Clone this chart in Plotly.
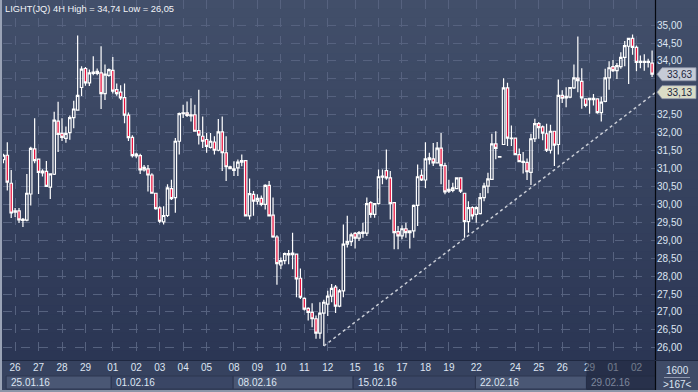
import plotly.graph_objects as go

# ---------------- data ----------------
open_ = [31.25, 31.37, 30.59, 29.78, 29.82, 29.55, 29.56, 30.29, 31.55, 31.26,
         30.88, 30.92, 30.48, 30.84, 32.32, 31.98, 31.84, 32.00, 32.42, 32.63,
         33.26, 33.79, 33.39, 33.65, 33.71, 33.67, 33.09, 33.60, 33.74, 33.20,
         33.13, 32.98, 32.49, 31.87, 31.35, 31.36, 30.96, 30.99, 30.82, 30.31,
         29.90, 29.51, 29.69, 30.44, 30.19, 31.76, 32.53, 32.55, 32.47, 32.50,
         32.06, 31.90, 31.81, 31.59, 31.74, 31.51, 32.02, 31.44, 31.05, 30.95,
         31.02, 31.18, 31.22, 29.68, 30.28, 30.09, 30.17, 30.00, 30.53, 29.70,
         29.09, 28.31, 28.43, 28.59, 28.60, 28.61, 27.94, 27.38, 27.10, 26.99,
         26.81, 26.41, 26.97, 27.22, 27.44, 27.69, 27.16, 27.59, 28.89, 28.96,
         29.19, 29.06, 29.19, 29.20, 30.05, 29.72, 30.02, 30.76, 30.94, 30.74,
         30.05, 29.24, 29.12, 29.32, 29.21, 29.26, 29.97, 30.81, 30.68, 31.25,
         31.27, 31.16, 31.57, 31.08, 30.37, 30.39, 30.44, 30.74, 30.31, 29.52,
         29.91, 29.72, 29.74, 30.19, 30.51, 30.70, 31.69, 31.32, 31.67, 33.25,
         31.83, 31.85, 31.39, 31.17, 31.17, 30.89, 31.83, 32.25, 32.16, 31.97,
         31.51, 32.04, 31.67, 33.04, 32.97, 32.99, 33.25, 33.52, 33.43, 32.94,
         32.92, 32.92, 32.94, 32.56, 32.87, 33.53, 33.84, 33.73, 33.84, 34.10,
         34.41, 34.63, 34.38, 33.96, 33.96, 33.96, 33.94]
high = [31.41, 31.73, 30.96, 29.90, 29.90, 29.62, 30.85, 31.61, 32.40, 31.26,
        30.98, 31.21, 30.87, 32.58, 32.86, 32.40, 32.17, 32.48, 32.89, 34.71,
        33.85, 33.83, 33.76, 34.13, 33.79, 34.41, 33.90, 33.79, 34.11, 33.37,
        33.32, 33.37, 32.56, 31.93, 31.44, 31.41, 31.10, 31.10, 30.87, 30.31,
        29.95, 29.95, 30.56, 30.69, 31.85, 32.56, 32.78, 32.87, 32.96, 32.78,
        33.20, 32.45, 31.99, 31.99, 31.90, 32.38, 32.45, 31.90, 31.08, 31.20,
        31.25, 31.39, 31.22, 30.72, 30.37, 30.28, 30.25, 30.56, 30.65, 30.19,
        29.14, 28.52, 28.66, 28.73, 29.21, 28.61, 28.21, 27.41, 27.13, 27.24,
        26.90, 27.27, 27.34, 27.59, 27.78, 27.75, 27.64, 29.44, 29.68, 29.21,
        29.23, 29.26, 29.49, 30.19, 30.09, 30.02, 30.97, 30.97, 31.53, 30.93,
        30.05, 29.40, 29.42, 29.49, 29.26, 30.00, 31.11, 30.97, 31.73, 31.44,
        31.71, 31.74, 31.99, 31.16, 30.69, 30.60, 30.74, 30.74, 30.31, 30.09,
        29.95, 29.95, 30.32, 30.60, 30.88, 31.97, 32.04, 31.33, 33.52, 33.39,
        32.20, 31.85, 31.56, 31.46, 31.28, 31.97, 32.39, 32.30, 32.20, 32.25,
        32.22, 32.04, 33.48, 33.18, 33.27, 33.27, 33.90, 34.68, 33.80, 32.96,
        32.97, 33.08, 32.96, 33.00, 33.78, 33.99, 34.03, 33.94, 34.24, 34.56,
        34.65, 34.74, 34.43, 34.15, 34.19, 34.06, 34.29]
low = [31.15, 30.39, 29.62, 29.65, 29.48, 29.37, 29.53, 29.97, 31.15, 30.29,
       30.78, 30.50, 30.15, 30.82, 31.46, 31.77, 31.72, 31.80, 32.12, 32.61,
       33.02, 33.31, 33.30, 33.60, 33.60, 32.66, 32.91, 33.56, 33.09, 33.03,
       32.91, 32.26, 31.77, 31.31, 31.29, 30.85, 30.92, 30.36, 30.30, 29.85,
       29.48, 29.44, 29.65, 30.12, 29.77, 31.39, 32.41, 32.44, 32.31, 32.04,
       31.67, 31.57, 31.44, 31.56, 31.39, 31.48, 30.93, 30.65, 30.98, 30.79,
       30.79, 31.06, 29.68, 29.58, 29.68, 30.00, 29.95, 29.86, 29.68, 29.07,
       27.76, 28.19, 28.33, 28.33, 28.19, 27.41, 27.36, 27.04, 26.76, 26.57,
       26.25, 26.25, 26.05, 26.89, 27.27, 26.97, 27.13, 27.41, 28.80, 28.84,
       28.77, 28.98, 29.07, 29.12, 29.63, 29.63, 30.00, 30.56, 30.69, 29.58,
       28.75, 28.75, 29.03, 29.07, 28.77, 29.07, 29.40, 30.65, 30.46, 31.11,
       31.07, 31.16, 30.56, 30.28, 30.32, 30.34, 30.42, 30.32, 29.07, 29.21,
       29.58, 29.49, 29.72, 30.09, 30.31, 30.70, 31.26, 31.32, 31.67, 31.63,
       31.63, 31.37, 31.19, 30.86, 30.68, 30.54, 31.74, 31.83, 31.79, 31.46,
       31.42, 31.07, 31.39, 32.83, 32.71, 32.96, 33.22, 33.13, 32.67, 32.71,
       32.53, 32.76, 32.53, 32.31, 32.85, 33.20, 33.69, 33.50, 33.78, 33.85,
       33.36, 34.17, 33.71, 33.80, 33.73, 33.82, 33.55]
close = [31.37, 30.62, 29.76, 29.82, 29.57, 29.58, 30.31, 31.56, 31.22, 30.89,
         30.93, 30.50, 30.85, 32.35, 31.95, 31.87, 31.98, 32.42, 32.66, 33.04,
         33.77, 33.39, 33.67, 33.69, 33.65, 33.09, 33.63, 33.76, 33.16, 33.09,
         32.97, 32.49, 31.86, 31.36, 31.40, 30.96, 31.03, 30.82, 30.31, 29.88,
         29.53, 29.69, 30.46, 30.16, 31.76, 32.53, 32.55, 32.48, 32.50, 32.04,
         31.93, 31.76, 31.62, 31.76, 31.51, 32.02, 31.44, 31.05, 31.00, 30.99,
         31.18, 31.22, 29.68, 30.30, 30.09, 30.17, 30.00, 30.53, 29.68, 29.09,
         28.35, 28.43, 28.63, 28.63, 28.64, 27.92, 27.41, 27.08, 26.99, 26.81,
         26.41, 26.97, 27.27, 27.44, 27.66, 27.16, 27.59, 28.89, 28.96, 29.15,
         29.06, 29.21, 29.23, 30.02, 29.72, 30.02, 30.77, 30.79, 30.74, 30.02,
         29.21, 29.12, 29.32, 29.21, 29.26, 29.97, 30.77, 30.68, 31.27, 31.30,
         31.16, 31.57, 31.08, 30.35, 30.42, 30.46, 30.74, 30.37, 29.52, 29.91,
         29.68, 29.91, 30.19, 30.51, 30.71, 31.69, 31.56, 31.33, 33.25, 31.85,
         31.85, 31.39, 31.19, 31.20, 30.91, 31.83, 32.25, 32.14, 31.99, 31.51,
         32.04, 31.65, 33.04, 32.96, 33.01, 33.26, 33.53, 33.45, 32.97, 32.76,
         32.96, 32.96, 32.56, 32.85, 33.53, 33.81, 33.73, 33.87, 34.10, 34.43,
         34.63, 34.38, 33.96, 33.99, 33.99, 33.99, 33.63]
bar_index = list(range(len(open_)))

day_ticks = [3, 9, 15, 21, 28, 34, 40, 46, 52, 59, 65, 71, 77, 83, 90, 96, 102,
             108, 114, 121, 131, 137, 143, 150, 156, 162]
day_labels = ["26", "27", "28", "29", "01", "02", "03", "04", "05", "08", "09",
              "10", "11", "12", "15", "16", "17", "18", "19", "22", "24", "25",
              "26", "29", "01", "02"]
week_starts = [0.7, 27.6, 58.8, 89.5, 120.8, 149.2]
week_labels = ["25.01.16", "01.02.16", "08.02.16", "15.02.16", "22.02.16", "29.02.16"]

price_ticks = [26.0, 26.5, 27.0, 27.5, 28.0, 28.5, 29.0, 29.5, 30.0, 30.5, 31.0,
               31.5, 32.0, 32.5, 33.0, 33.5, 34.0, 34.5, 35.0]
# labels hidden under the price tags in the reference
hidden_price_labels = [33.0, 33.5]

trend_x = [82, 167]
trend_y = [26.05, 33.13]
last_price = 33.63
trend_price = 33.13
title_text = "LIGHT(JQ) 4H High = 34,74 Low = 26,05"
bars_label = "1600"
count_label = ">167<"

# ---------------- geometry ----------------
W, H = 698, 392
ML, MR, MT, MB = 3, 42, 0, 32
PW = W - ML - MR
PH = H - MT - MB
X_LO, X_HI = -0.1, 167.0
Y_LO, Y_HI = 25.66, 35.70

FONT = "Liberation Sans, Arial, sans-serif"
TXT = "#dde5f2"


def px_x(p):
    return (p - ML) / PW


def px_y(p):
    return 1 - (p - MT) / PH


def fmt(v):
    return ("%.2f" % v).replace(".", ",")


price_text = ["" if v in hidden_price_labels else fmt(v) for v in price_ticks]

fig = go.Figure()

fig.add_trace(go.Candlestick(
    x=bar_index, open=open_, high=high, low=low, close=close,
    increasing=dict(line=dict(color="#ffffff", width=1.2), fillcolor="rgba(0,0,0,0)"),
    decreasing=dict(line=dict(color="#ffffff", width=1.2), fillcolor="#e8103c"),
    whiskerwidth=0, hoverinfo="skip", showlegend=False,
))

fig.add_trace(go.Scatter(
    x=trend_x, y=trend_y, mode="lines",
    line=dict(color="#c9cdd6", width=1.5, dash="dot"),
    hoverinfo="skip", showlegend=False,
))

shapes = []
# vertical gradient background
top = (66, 79, 106)
bot = (43, 54, 84)
n = 40
for i in range(n):
    t = i / (n - 1)
    c = tuple(round(top[k] + (bot[k] - top[k]) * t) for k in range(3))
    y1 = 1 - i / n
    y0 = 1 - (i + 1) / n
    shapes.append(dict(type="rect", xref="paper", yref="paper",
                       x0=px_x(0), x1=px_x(W), y0=y0, y1=y1 + 0.002,
                       fillcolor="rgb(%d,%d,%d)" % c, line=dict(width=0), layer="below"))
# axis band
shapes.append(dict(type="rect", xref="paper", yref="paper",
                   x0=px_x(0), x1=px_x(W), y0=px_y(H), y1=px_y(361),
                   fillcolor="#36425f", line=dict(width=0), layer="below"))
# week boxes
for i, ws in enumerate(week_starts):
    we = week_starts[i + 1] if i + 1 < len(week_starts) else X_HI
    shapes.append(dict(type="rect", xref="x", yref="paper",
                       x0=ws, x1=we, y0=px_y(389), y1=px_y(376),
                       fillcolor="#4a5774" if i % 2 == 0 else "#3a4665",
                       line=dict(width=1, color="#2c3650"), layer="below"))
# dim overlay on the current week
shapes.append(dict(type="rect", xref="x", yref="paper",
                   x0=week_starts[-1], x1=X_HI, y0=px_y(390), y1=px_y(361),
                   fillcolor="rgba(25,33,55,0.55)", line=dict(width=0), layer="above"))
# bottom-right cell
shapes.append(dict(type="rect", xref="paper", yref="paper",
                   x0=px_x(656), x1=px_x(W), y0=px_y(390), y1=px_y(361),
                   fillcolor="#3f4b67", line=dict(width=0), layer="below"))
shapes.append(dict(type="line", xref="paper", yref="paper",
                   x0=px_x(664), x1=px_x(690), y0=px_y(377.5), y1=px_y(377.5),
                   line=dict(color="#8d97ad", width=1), layer="above"))
# frame lines
shapes.append(dict(type="line", xref="paper", yref="paper",
                   x0=px_x(655.5), x1=px_x(655.5), y0=px_y(390), y1=px_y(0),
                   line=dict(color="#05080f", width=1.2), layer="above"))
shapes.append(dict(type="line", xref="paper", yref="paper",
                   x0=px_x(0), x1=px_x(W), y0=px_y(360.5), y1=px_y(360.5),
                   line=dict(color="#1f2840", width=1), layer="above"))
shapes.append(dict(type="rect", xref="paper", yref="paper",
                   x0=px_x(0), x1=px_x(2), y0=px_y(H), y1=px_y(0),
                   fillcolor="#9aa3b6", line=dict(width=0), layer="above"))
shapes.append(dict(type="rect", xref="paper", yref="paper",
                   x0=px_x(0), x1=px_x(W), y0=px_y(H), y1=px_y(390),
                   fillcolor="#8c95a8", line=dict(width=0), layer="above"))
# price tags
for price, col in ((last_price, "#c6cbd6"), (trend_price, "#dadcc6")):
    shapes.append(dict(type="path", xref="paper", yref="y",
                       xsizemode="pixel", ysizemode="pixel",
                       xanchor=1, yanchor=price,
                       path="M 1,0 L 6,6.5 L 40,6.5 L 40,-6.5 L 6,-6.5 Z",
                       fillcolor=col, line=dict(color="#8e96a8", width=0.8),
                       layer="above"))

annotations = [
    dict(text=title_text, xref="paper", yref="paper", x=px_x(3), y=1,
         xanchor="left", yanchor="top", yshift=-2, showarrow=False,
         font=dict(family=FONT, size=9.3, color="#f2f4f8")),
    dict(text=bars_label, xref="paper", yref="paper", x=px_x(677), y=px_y(370.5),
         xanchor="center", yanchor="middle", showarrow=False,
         font=dict(family=FONT, size=10, color=TXT)),
    dict(text=count_label, xref="paper", yref="paper", x=px_x(677), y=px_y(384.5),
         xanchor="center", yanchor="middle", showarrow=False,
         font=dict(family=FONT, size=10, color=TXT)),
]
for i, (ws, lab) in enumerate(zip(week_starts, week_labels)):
    annotations.append(dict(text=lab, xref="x", yref="paper", x=ws, y=px_y(382.5),
                            xanchor="left", yanchor="middle", xshift=3, showarrow=False,
                            font=dict(family=FONT, size=10,
                                      color="#7d879c" if i == len(week_starts) - 1 else TXT)))
for price in (last_price, trend_price):
    annotations.append(dict(text=fmt(price), xref="paper", yref="y",
                            x=1, y=price, xanchor="center", yanchor="middle",
                            xshift=23, showarrow=False,
                            font=dict(family=FONT, size=10, color="#1c2640")))

fig.update_layout(
    width=W, height=H,
    margin=dict(l=ML, r=MR, t=MT, b=MB, pad=0),
    paper_bgcolor="#2b3654", plot_bgcolor="rgba(0,0,0,0)",
    showlegend=False,
    boxgap=0.1,
    shapes=shapes, annotations=annotations,
    xaxis=dict(range=[X_LO, X_HI], tickmode="array", tickvals=day_ticks, ticktext=day_labels,
               showgrid=True, gridcolor="#56627f", griddash="dash", gridwidth=1,
               zeroline=False, showline=False, ticks="",
               tickfont=dict(family=FONT, size=10, color=TXT),
               rangeslider=dict(visible=False), fixedrange=True),
    yaxis=dict(range=[Y_LO, Y_HI], side="right", tickmode="array", tickvals=price_ticks,
               ticktext=price_text, showgrid=True, gridcolor="#56627f", griddash="dash",
               gridwidth=1, zeroline=False, showline=False, ticks="",
               tickfont=dict(family=FONT, size=10, color=TXT), fixedrange=True),
)

fig.write_html("out.html", config={"displayModeBar": False},
               post_script="document.body.style.margin='0';document.body.style.overflow='hidden';")
